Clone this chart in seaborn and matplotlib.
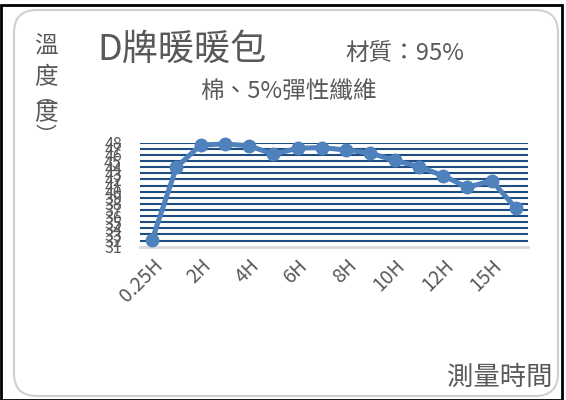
import matplotlib
matplotlib.use('Agg')
import matplotlib.pyplot as plt
import seaborn as sns
from matplotlib.patches import FancyBboxPatch, Rectangle

# data
hours = ['0.25H', '1H', '2H', '3H', '4H', '5H', '6H', '7H', '8H', '9H',
         '10H', '11H', '12H', '13H', '15H', '16H']
temps = [32.1, 44.0, 47.6, 47.8, 47.5, 46.1, 47.1, 47.2, 46.8, 46.3,
         45.1, 44.1, 42.6, 40.7, 41.8, 37.3]
y_ticks = list(range(31, 49))

sns.set_theme(style='white')
plt.rcParams['font.family'] = ['Noto Sans CJK TC', 'DejaVu Sans']

W, H = 566, 400
fig = plt.figure(figsize=(W / 100, H / 100), dpi=100)

# outer black frame and rounded gray chart border
fig.patches.append(Rectangle((0.5 / W, 0.5 / H), 561 / W, 395 / H,
                             transform=fig.transFigure, fill=False,
                             edgecolor='black', linewidth=2))
fig.patches.append(FancyBboxPatch((14 / W, 4 / H), 544 / W, 386 / H,
                                  boxstyle='round,pad=0,rounding_size=0.04',
                                  transform=fig.transFigure, fill=False,
                                  edgecolor='#d0d0d0', linewidth=1.5,
                                  mutation_aspect=W / H))

ax = fig.add_axes([140 / W, 1 - 246.7 / H, 388 / W, 104 / H])

for v in y_ticks[1:]:
    ax.axhline(v, color='#1f4e83', linewidth=1.5, zorder=1)

sns.lineplot(x=hours, y=temps, sort=False, ax=ax, color='#4f81bd',
             linewidth=3.6, marker='o', markersize=10, markeredgewidth=0,
             zorder=3, clip_on=False)

ax.set_xlim(-0.5, len(hours) - 0.5)
ax.set_ylim(31, 48)
ax.set_yticks(y_ticks)
ax.set_yticklabels([str(v) for v in y_ticks])
ax.set_xticks(range(0, len(hours), 2))
ax.set_xticklabels(hours[::2], rotation=45, ha='right', rotation_mode='anchor')
ax.tick_params(axis='y', labelsize=11.5, labelcolor='#595959', length=0, pad=13)
ax.tick_params(axis='x', labelsize=14, labelcolor='#595959', length=0, pad=6)
ax.set_xlabel('')
ax.set_ylabel('')
for s in ['top', 'left', 'right']:
    ax.spines[s].set_visible(False)
ax.spines['bottom'].set_color('#d9d9d9')
ax.spines['bottom'].set_linewidth(2)
ax.grid(False)

# titles
fig.text(97 / W, 1 - 50 / H, 'D牌暖暖包', fontsize=26, color='#595959',
         va='center', ha='left')
fig.text(345 / W, 1 - 53 / H, '材質：95%', fontsize=17, color='#595959',
         va='center', ha='left')
fig.text(288 / W, 1 - 92 / H, '棉、5%彈性纖維', fontsize=17, color='#595959',
         va='center', ha='center')

# vertical y-axis label
for ch, yy, fs in [('溫', 47, 17), ('度', 78, 17), ('︵', 97, 15),
                   ('度', 114, 17), ('︶', 136, 15)]:
    fig.text(46 / W, 1 - yy / H, ch, fontsize=fs, color='#595959',
             va='center', ha='center')

fig.text(500 / W, 1 - 377 / H, '測量時間', fontsize=19, color='#595959',
         va='center', ha='center')

fig.savefig('out.png', dpi=100)
